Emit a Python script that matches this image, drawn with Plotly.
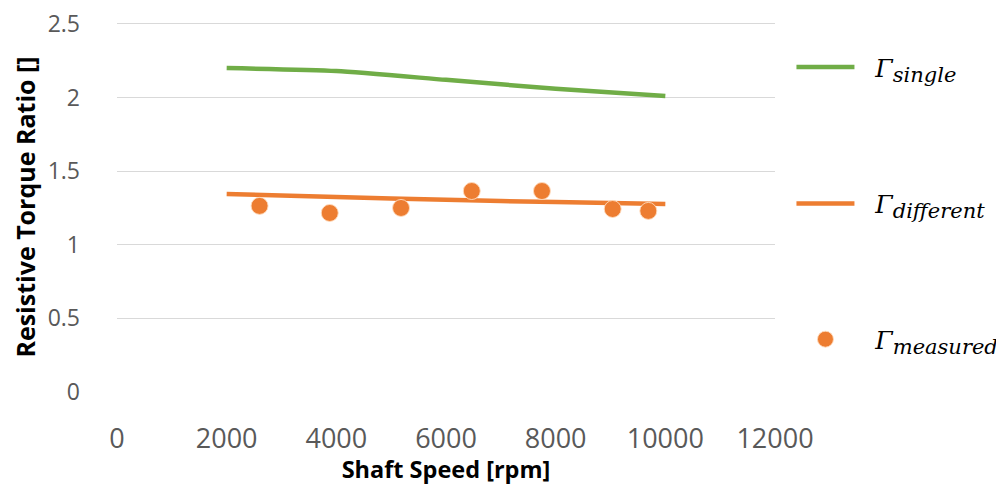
import plotly.graph_objects as go

# ---- data ----
speed_model = [2000, 4000, 6000, 8000, 10000]
gamma_single = [2.20, 2.18, 2.12, 2.06, 2.01]
gamma_different = [1.345, 1.325, 1.305, 1.29, 1.277]

speed_measured = [2600, 3880, 5180, 6470, 7750, 9040, 9690]
gamma_measured = [1.264, 1.216, 1.25, 1.365, 1.365, 1.243, 1.23]

x_ticks = [0, 2000, 4000, 6000, 8000, 10000, 12000]
y_ticks = [0, 0.5, 1, 1.5, 2, 2.5]
y_tick_labels = ["0", "0.5", "1", "1.5", "2", "2.5"]

GREEN = "#70AD47"
ORANGE = "#ED7D31"

def lab(sub):
    return ("\u00a0\u00a0<i>Γ</i><sub><i><span style='font-size:21px'>"
            + sub + "</span></i></sub>")

fig = go.Figure()
fig.add_trace(go.Scatter(
    x=speed_model, y=gamma_single, mode="lines", name=lab("single"),
    line=dict(color=GREEN, width=4.5, shape="spline", smoothing=0.6),
    legend="legend"))
fig.add_trace(go.Scatter(
    x=speed_model, y=gamma_different, mode="lines", name=lab("different"),
    line=dict(color=ORANGE, width=4.5, shape="spline", smoothing=0.6),
    legend="legend2"))
fig.add_trace(go.Scatter(
    x=speed_measured, y=gamma_measured, mode="markers", name=lab("measured"),
    marker=dict(color=ORANGE, size=17, line=dict(color="rgba(255,220,190,0.9)", width=1)),
    legend="legend3"))

legend_common = dict(
    x=1.025, xanchor="left", yanchor="middle",
    bgcolor="rgba(0,0,0,0)", itemwidth=58,
    font=dict(family="DejaVu Serif", size=25, color="#000000"),
)

fig.update_layout(
    width=996, height=477,
    margin=dict(l=109, r=229, t=14, b=93, autoexpand=False),
    paper_bgcolor="white", plot_bgcolor="white",
    showlegend=True,
    legend=dict(y=0.878, **legend_common),
    legend2=dict(y=0.509, **legend_common),
    legend3=dict(y=0.142, **legend_common),
    xaxis=dict(
        range=[0, 12000], tickvals=x_ticks, ticktext=[str(v) for v in x_ticks],
        showgrid=False, zeroline=False, showline=False, ticks="",
        tickfont=dict(family="Open Sans", size=27, color="#595959"),
        ticklabelstandoff=28, ticklabeloverflow="allow",
        title=dict(text="<b>Shaft Speed [rpm]</b>", standoff=16,
                   font=dict(family="Open Sans", size=23.5, color="#000000")),
    ),
    yaxis=dict(
        range=[0, 2.513], tickvals=y_ticks, ticktext=y_tick_labels,
        showgrid=True, gridcolor="#D9D9D9", gridwidth=1.3,
        zeroline=False, showline=False, ticks="",
        tickfont=dict(family="Open Sans", size=23, color="#595959"),
        ticklabelstandoff=36, ticklabeloverflow="allow",
        title=dict(text="<b>Resistive Torque Ratio []</b>", standoff=10,
                   font=dict(family="Open Sans", size=25, color="#000000")),
    ),
)

fig.write_html("out.html")
